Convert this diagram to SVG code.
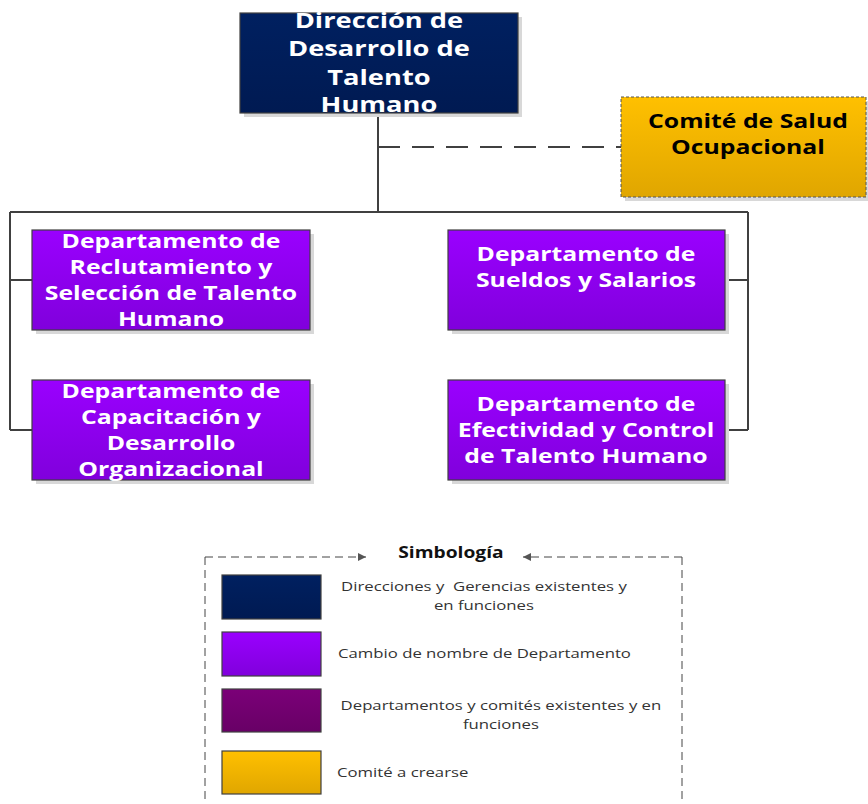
<svg xmlns="http://www.w3.org/2000/svg" width="868" height="804" viewBox="0 0 868 804">
<defs>
<linearGradient id="gPurple" x1="0" y1="0" x2="0" y2="1"><stop offset="0" stop-color="#9A00FF"/><stop offset="1" stop-color="#8000DC"/></linearGradient>
<linearGradient id="gYellow" x1="0" y1="0" x2="0" y2="1"><stop offset="0" stop-color="#FFC000"/><stop offset="1" stop-color="#E0A600"/></linearGradient>
<linearGradient id="gNavy" x1="0" y1="0" x2="0" y2="1"><stop offset="0" stop-color="#002060"/><stop offset="1" stop-color="#001A52"/></linearGradient>
<linearGradient id="gPlum" x1="0" y1="0" x2="0" y2="1"><stop offset="0" stop-color="#7B0078"/><stop offset="1" stop-color="#680066"/></linearGradient>
<marker id="arr" viewBox="0 0 10 10" refX="10" refY="5" markerWidth="10" markerHeight="8" markerUnits="userSpaceOnUse" orient="auto"><path d="M0,0 L10,5 L0,10 z" fill="#555"/></marker>
</defs>
<style>
.box{stroke:#404040;stroke-width:1.2}
.shadow{fill:#d8d8d8}
.wt{font-family:"Open Sans","DejaVu Sans",sans-serif;font-weight:bold;font-size:20px;fill:#fff;text-anchor:middle}
.wt22{font-family:"Open Sans","DejaVu Sans",sans-serif;font-weight:bold;font-size:22px;fill:#fff;text-anchor:middle}
.bt{font-family:"Open Sans","DejaVu Sans",sans-serif;font-weight:bold;font-size:20px;fill:#000;text-anchor:middle}
.conn{stroke:#404040;stroke-width:2;fill:none}
.lg{font-family:"Open Sans","DejaVu Sans",sans-serif;font-size:13.5px;fill:#333}
.lgc{font-family:"Open Sans","DejaVu Sans",sans-serif;font-size:13.5px;fill:#333;text-anchor:middle}
.ld{stroke:#444;stroke-width:1;fill:none;stroke-dasharray:8,5}
</style>
<rect width="868" height="804" fill="#fff"/>
<g id="connectors">
<path class="conn" d="M378,113 V212 M10,212 H748 M10,212 V430 M748,212 V430 M10,280 H32 M10,430 H32 M725,280 H748 M725,430 H748"/>
<path class="conn" d="M378,147 H621" stroke-dasharray="22,12" stroke-width="1.5"/>
</g>
<g id="direccion">
<rect class="shadow" x="244" y="17" width="278" height="100"/>
<rect class="box" x="240" y="13" width="278" height="100" fill="url(#gNavy)"/>
<g transform="scale(1.24,1)">
<text class="wt22" x="305.6" y="28">Dirección de</text>
<text class="wt22" x="305.6" y="56">Desarrollo de</text>
<text class="wt22" x="305.6" y="85">Talento</text>
<text class="wt22" x="305.6" y="112">Humano</text>
</g>
</g>
<g id="comite">
<rect class="shadow" x="625" y="101" width="245" height="100"/>
<rect x="621" y="97" width="245" height="100" fill="url(#gYellow)" stroke="#555" stroke-width="1" stroke-dasharray="3,2"/>
<g transform="scale(1.24,1)">
<text class="bt" x="603.2" y="128">Comité de Salud</text>
<text class="bt" x="603.2" y="154">Ocupacional</text>
</g>
</g>
<g id="reclutamiento">
<rect class="shadow" x="36" y="234" width="278" height="100"/>
<rect class="box" x="32" y="230" width="278" height="100" fill="url(#gPurple)"/>
<g transform="scale(1.24,1)">
<text class="wt" x="137.9" y="248">Departamento de</text>
<text class="wt" x="137.9" y="274">Reclutamiento y</text>
<text class="wt" x="137.9" y="300">Selección de Talento</text>
<text class="wt" x="137.9" y="326">Humano</text>
</g>
</g>
<g id="capacitacion">
<rect class="shadow" x="36" y="384" width="278" height="100"/>
<rect class="box" x="32" y="380" width="278" height="100" fill="url(#gPurple)"/>
<g transform="scale(1.24,1)">
<text class="wt" x="137.9" y="398">Departamento de</text>
<text class="wt" x="137.9" y="424">Capacitación y</text>
<text class="wt" x="137.9" y="450">Desarrollo</text>
<text class="wt" x="137.9" y="476">Organizacional</text>
</g>
</g>
<g id="sueldos">
<rect class="shadow" x="452" y="234" width="277" height="100"/>
<rect class="box" x="448" y="230" width="277" height="100" fill="url(#gPurple)"/>
<g transform="scale(1.24,1)">
<text class="wt" x="472.6" y="261">Departamento de</text>
<text class="wt" x="472.6" y="287">Sueldos y Salarios</text>
</g>
</g>
<g id="efectividad">
<rect class="shadow" x="452" y="384" width="277" height="100"/>
<rect class="box" x="448" y="380" width="277" height="100" fill="url(#gPurple)"/>
<g transform="scale(1.24,1)">
<text class="wt" x="472.6" y="411">Departamento de</text>
<text class="wt" x="472.6" y="437">Efectividad y Control</text>
<text class="wt" x="472.6" y="463">de Talento Humano</text>
</g>
</g>
<g id="simbologia">
<path class="ld" d="M205,557 H366" marker-end="url(#arr)"/>
<path class="ld" d="M682,557 H523" marker-end="url(#arr)"/>
<path class="ld" d="M205,557 V804 M682,557 V804"/>
<rect class="box" x="222" y="575" width="99" height="44" fill="url(#gNavy)"/>
<rect class="box" x="222" y="632" width="99" height="44" fill="url(#gPurple)"/>
<rect class="box" x="222" y="689" width="99" height="43" fill="url(#gPlum)"/>
<rect class="box" x="222" y="751" width="99" height="43" fill="url(#gYellow)"/>
<g transform="scale(1.24,1)">
<text x="363.7" y="558" style="font-family:'Open Sans','DejaVu Sans',sans-serif;font-weight:bold;font-size:15.5px;fill:#111;text-anchor:middle">Simbología</text>
<text class="lgc" x="390.3" y="591">Direcciones y&#160; Gerencias existentes y</text>
<text class="lgc" x="390.3" y="610">en funciones</text>
<text class="lg" x="272.6" y="658">Cambio de nombre de Departamento</text>
<text class="lgc" x="404" y="710">Departamentos y comités existentes y en</text>
<text class="lgc" x="404" y="729">funciones</text>
<text class="lg" x="271.8" y="777">Comité a crearse</text>
</g>
</g>
</svg>
